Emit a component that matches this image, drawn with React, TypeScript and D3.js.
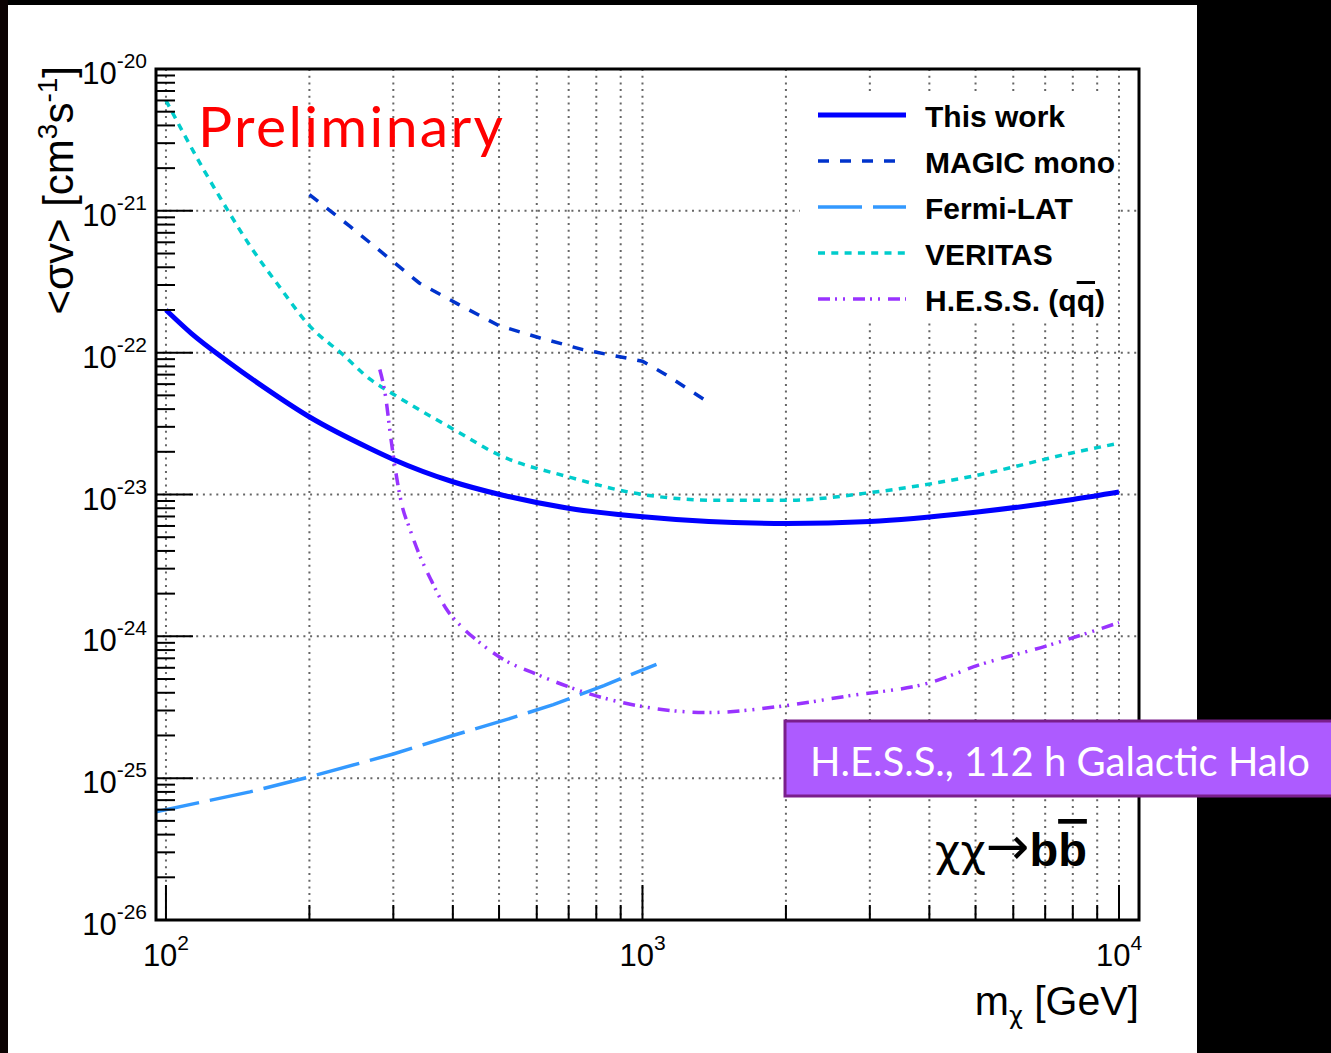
import React from "react";
import * as d3 from "d3";

// ---------- data ----------
const massRange = [95.3, 11015]; // GeV, axis range
const sigmaRange = [1e-26, 1e-20]; // cm^3 s^-1, axis range

const majorMassTicks = [100, 1000, 10000];
const majorMassExp = ["2", "3", "4"];
const majorSigmaTicks = [1e-20, 1e-21, 1e-22, 1e-23, 1e-24, 1e-25, 1e-26];
const majorSigmaExp = ["-20", "-21", "-22", "-23", "-24", "-25", "-26"];

const thisWorkMass = [100, 113, 135, 161, 201, 268, 301, 400, 502, 704, 988, 2010, 3000, 4940, 8000, 10000];
const thisWorkSigma = [2.0e-22, 1.37e-22, 8.64e-23, 5.67e-23, 3.49e-23, 2.11e-23, 1.76e-23, 1.23e-23, 1.0e-23, 7.97e-24, 7.0e-24, 6.25e-24, 6.45e-24, 7.47e-24, 9.22e-24, 1.04e-23];

const magicMass = [200, 243, 290, 340, 410, 500, 610, 750, 920, 1000, 1120, 1240, 1370];
const magicSigma = [1.3e-21, 7.8e-22, 4.8e-22, 3.1e-22, 2.2e-22, 1.55e-22, 1.27e-22, 1.05e-22, 9.2e-23, 8.7e-23, 7.0e-23, 5.6e-23, 4.5e-23];

const fermiMass = [95.3, 150, 200, 300, 400, 530, 650, 830, 1070];
const fermiSigma = [5.8e-26, 8.0e-26, 1.02e-25, 1.48e-25, 2.0e-25, 2.65e-25, 3.3e-25, 4.5e-25, 6.35e-25];

const veritasMass = [100, 120, 135, 151, 172, 200, 235, 268, 300, 400, 500, 700, 1000, 1450, 2000, 3000, 5000, 8000, 10000];
const veritasSigma = [6.0e-21, 1.95e-21, 1.0e-21, 5.5e-22, 3.0e-22, 1.55e-22, 9.7e-23, 6.5e-23, 5.1e-23, 2.9e-23, 1.9e-23, 1.33e-23, 1.0e-23, 9.1e-24, 9.1e-24, 1.03e-23, 1.36e-23, 1.97e-23, 2.3e-23];

const hessMass = [281, 289, 296, 303, 312, 325, 341, 361, 388, 414, 456, 510, 600, 800, 1000, 1370, 2000, 2700, 4000, 5100, 7000, 10000];
const hessSigma = [7.6e-23, 4.9e-23, 2.6e-23, 1.5e-23, 8.7e-24, 5.7e-24, 3.7e-24, 2.45e-24, 1.55e-24, 1.2e-24, 9.0e-25, 6.9e-25, 5.4e-25, 3.8e-25, 3.2e-25, 2.9e-25, 3.25e-25, 3.8e-25, 4.7e-25, 6.3e-25, 8.5e-25, 1.25e-24];

const legendLabels = ["This work", "MAGIC mono", "Fermi-LAT", "VERITAS", "H.E.S.S. (q"];

const AXIS_FONT = "'Liberation Sans', Arial, Helvetica, sans-serif";
const GREEK_FONT = "'DejaVu Sans', sans-serif";
const HUMAN_FONT = "Lato, 'Open Sans', sans-serif";

export default function App() {
  const W = 1331;
  const H = 1053;
  const left = 156, right = 1139, top = 69, bottom = 920;

  const x = d3.scaleLog().domain(massRange).range([left, right]);
  const y = d3.scaleLog().domain(sigmaRange).range([bottom, top]);

  const minorMass: number[] = [];
  [100, 1000].forEach((dec) => {
    for (let k = 2; k <= 9; k++) minorMass.push(k * dec);
  });
  const minorSigma: number[] = [];
  [1e-26, 1e-25, 1e-24, 1e-23, 1e-22, 1e-21].forEach((dec) => {
    for (let k = 2; k <= 9; k++) minorSigma.push(k * dec);
  });

  const mk = (ms: number[], ss: number[]) => ms.map((m, i) => [m, ss[i]] as [number, number]);
  const smooth = d3.line<[number, number]>().x((d) => x(d[0])).y((d) => y(d[1])).curve(d3.curveMonotoneX);
  const straight = d3.line<[number, number]>().x((d) => x(d[0])).y((d) => y(d[1]));

  const series = [
    { name: legendLabels[0], d: smooth(mk(thisWorkMass, thisWorkSigma)), color: "#0000ff", w: 5, dash: "none" },
    { name: legendLabels[1], d: straight(mk(magicMass, magicSigma)), color: "#0033cc", w: 3.5, dash: "11 11" },
    { name: legendLabels[2], d: straight(mk(fermiMass, fermiSigma)), color: "#3399ff", w: 3.5, dash: "44 11" },
    { name: legendLabels[3], d: smooth(mk(veritasMass, veritasSigma)), color: "#00cccc", w: 3.5, dash: "7 6.3" },
    { name: legendLabels[4], d: smooth(mk(hessMass, hessSigma)), color: "#9933ff", w: 3.5, dash: "12 5 2 6 2 8" },
  ];

  const gridColor = "#666";
  const legendY0 = 115;
  const legendStep = 46;

  return (
    <svg width={W} height={H} style={{ position: "absolute", left: 0, top: 0, display: "block" }}>
      <defs>
        <clipPath id="plotClip">
          <rect x={left} y={top} width={right - left} height={bottom - top} />
        </clipPath>
      </defs>
      <rect x={0} y={0} width={W} height={H} fill="#000" />
      <rect x={0} y={0} width={8} height={H} fill="#0c0303" />
      <rect x={8} y={5} width={1189} height={1048} fill="#fff" />

      {/* grid */}
      <g stroke={gridColor} strokeWidth={2} strokeDasharray="2 4.7">
        {[...majorMassTicks, ...minorMass].map((m) => (
          <line key={"gx" + m} x1={x(m)} x2={x(m)} y1={top} y2={bottom} />
        ))}
        {majorSigmaTicks.map((s) => (
          <line key={"gy" + s} x1={left} x2={right} y1={y(s)} y2={y(s)} />
        ))}
      </g>

      {/* curves */}
      <g clipPath="url(#plotClip)" fill="none">
        {series.map((s) => (
          <path key={s.name} d={s.d || ""} stroke={s.color} strokeWidth={s.w} strokeDasharray={s.dash === "none" ? undefined : s.dash} />
        ))}
      </g>

      {/* ticks */}
      <g stroke="#000" strokeWidth={2}>
        {majorSigmaTicks.map((s) => (
          <line key={"ty" + s} x1={left} x2={left + 37} y1={y(s)} y2={y(s)} />
        ))}
        {minorSigma.map((s) => (
          <line key={"tmy" + s} x1={left} x2={left + 19} y1={y(s)} y2={y(s)} />
        ))}
        {majorMassTicks.map((m) => (
          <line key={"tx" + m} x1={x(m)} x2={x(m)} y1={bottom} y2={bottom - 35} />
        ))}
        {minorMass.map((m) => (
          <line key={"tmx" + m} x1={x(m)} x2={x(m)} y1={bottom} y2={bottom - 15} />
        ))}
      </g>

      {/* frame */}
      <rect x={left} y={top} width={right - left} height={bottom - top} fill="none" stroke="#000" strokeWidth={3} />

      {/* tick labels */}
      <g fontFamily={AXIS_FONT} fill="#000">
        {majorSigmaTicks.map((s, i) => (
          <text key={"ly" + s} x={147} y={y(s) + 15} fontSize={31} textAnchor="end">
            10<tspan fontSize={21} dy={-16}>{majorSigmaExp[i]}</tspan>
          </text>
        ))}
        {majorMassTicks.map((m, i) => (
          <text key={"lx" + m} x={x(m)} y={966} fontSize={31} textAnchor="middle">
            10<tspan fontSize={21} dy={-16}>{majorMassExp[i]}</tspan>
          </text>
        ))}
      </g>

      {/* axis titles */}
      <text fontFamily={AXIS_FONT} fontSize={42} textAnchor="end" transform="translate(73,66) rotate(-90)">
        {"<σv> [cm"}
        <tspan fontSize={28} dy={-16}>3</tspan>
        <tspan dy={16}>s</tspan>
        <tspan fontSize={28} dy={-16}>-1</tspan>
        <tspan dy={16}>]</tspan>
      </text>
      <text fontFamily={AXIS_FONT} fontSize={41} textAnchor="end" x={1139} y={1015}>
        m<tspan fontFamily={GREEK_FONT} fontSize={24} dy={9}>χ</tspan>
        <tspan dy={-9}> [GeV]</tspan>
      </text>

      {/* Preliminary */}
      <text x={198} y={147} fontFamily={HUMAN_FONT} fontSize={57} fill="#ff0000" textLength={305} lengthAdjust="spacing">
        Preliminary
      </text>

      {/* legend */}
      <rect x={800} y={92} width={316} height={231} fill="#fff" />
      {series.map((s, i) => (
        <g key={"lg" + i}>
          <line x1={818} x2={906} y1={legendY0 + i * legendStep} y2={legendY0 + i * legendStep} stroke={s.color} strokeWidth={s.w} strokeDasharray={s.dash === "none" ? undefined : s.dash} />
          <text x={925} y={legendY0 + i * legendStep + 12} fontFamily={AXIS_FONT} fontWeight="bold" fontSize={30} fill="#000">
            {s.name}
            {i === 4 ? (
              <>
                <tspan style={{ textDecoration: "overline" }}>q</tspan>
                <tspan>)</tspan>
              </>
            ) : null}
          </text>
        </g>
      ))}

      {/* channel label */}
      <text x={935} y={866} fontFamily={AXIS_FONT} fontSize={47} fill="#000">
        <tspan fontFamily={GREEK_FONT} fontSize={44}>χχ</tspan>
        <tspan fontFamily={GREEK_FONT} fontSize={52} dy={-2}>→</tspan>
        <tspan fontWeight="bold" dy={2}>b</tspan>
        <tspan fontWeight="bold" style={{ textDecoration: "overline" }}>b</tspan>
      </text>

      {/* H.E.S.S. box */}
      <rect x={785} y={721} width={548} height={75} fill="#ad5bff" stroke="#7a1e8c" strokeWidth={3} />
      <text x={810} y={776} fontFamily={HUMAN_FONT} fontSize={40} fill="#fff">
        H.E.S.S., 112 h Galactic Halo
      </text>
    </svg>
  );
}
